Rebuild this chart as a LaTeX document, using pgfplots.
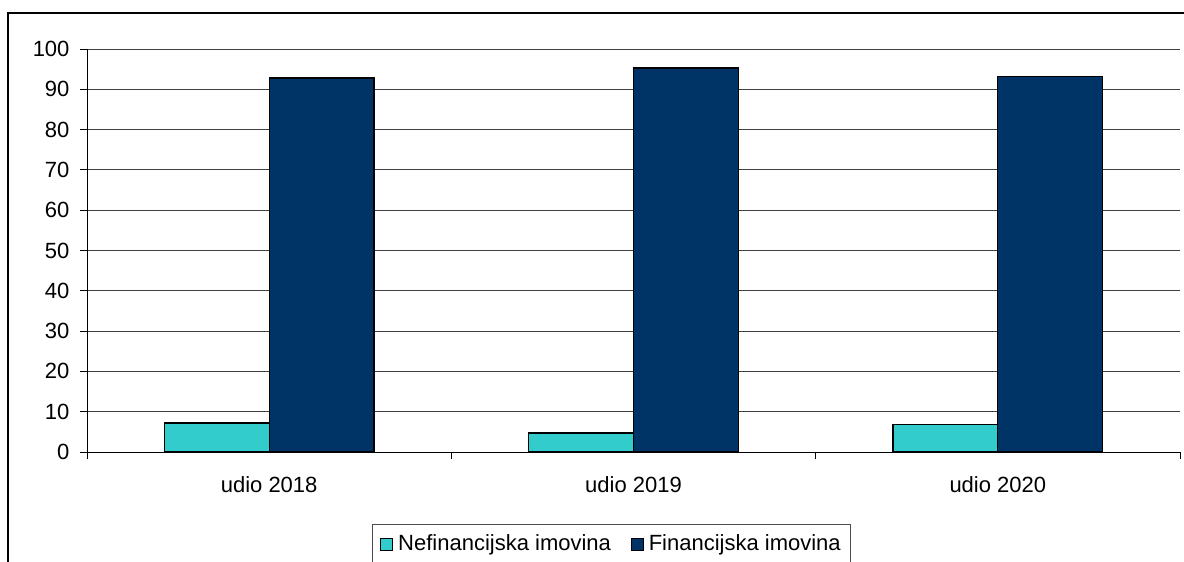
\documentclass[border=0pt]{standalone}
\usepackage{pgfplots}
\pgfplotsset{compat=1.18}
\usepackage{fontspec}
\setmainfont{Liberation Sans}
\definecolor{cyanbar}{HTML}{33CCCC}
\definecolor{navybar}{HTML}{003366}
\begin{document}
\fontsize{22bp}{26bp}\selectfont
\begin{tikzpicture}
\begin{axis}[
  at={(87bp,110bp)}, anchor=south west,
  scale only axis, width=1093bp, height=403bp,
  xmin=-0.5, xmax=2.5, ymin=0, ymax=100,
  axis x line*=bottom, axis y line*=left,
  axis line style={black, line width=0.8bp},
  ytick={0,10,...,100},
  xtick={0,1,2},
  xticklabels={udio 2018, udio 2019, udio 2020},
  major x tick style={draw=none},
  minor xtick={-0.5,0.5,1.5,2.5},
  minor x tick style={black, line width=0.8bp},
  minor tick length=7bp,
  xtick align=outside, ytick align=outside,
  major tick length=7bp,
  y tick style={black, line width=0.8bp},
  ymajorgrids, grid style={black!75, line width=0.8bp},
  /pgf/number format/assume math mode=true,
  tick label style={font=\fontsize{22bp}{26bp}\selectfont},
  yticklabel style={xshift=-3bp},
  xticklabel style={yshift=-10bp},
  ybar=0pt, bar width=0.288,
  legend style={at={(axis description cs:0.2608,-0.1787)}, anchor=north west,
    draw=black!70, line width=0.8bp, legend columns=2,
    font=\fontsize{22bp}{26bp}\selectfont,
    inner xsep=8bp, inner ysep=8bp,
    /tikz/every odd column/.append style={column sep=3bp},
    /tikz/every even column/.append style={column sep=18bp}},
  legend image code/.code={\draw[#1, draw=black, line width=0.8bp] (0bp,-6bp) rectangle (12bp,6bp);},
]
\addplot[fill=cyanbar, draw=black, line width=1.2bp, bar shift=-0.144] coordinates {(0,7.2) (1,4.7) (2,6.9)};
\addplot[fill=navybar, draw=black, line width=1.2bp, bar shift=0.144] coordinates {(0,92.8) (1,95.3) (2,93.1)};
\legend{Nefinancijska imovina, Financijska imovina}
\end{axis}
\draw[black, line width=1.6bp] (8bp,-20bp) -- (8bp,549bp) -- (1200bp,549bp);
\pgfresetboundingbox
\useasboundingbox (0bp,0bp) rectangle (1184bp,562bp);
\end{tikzpicture}
\end{document}
